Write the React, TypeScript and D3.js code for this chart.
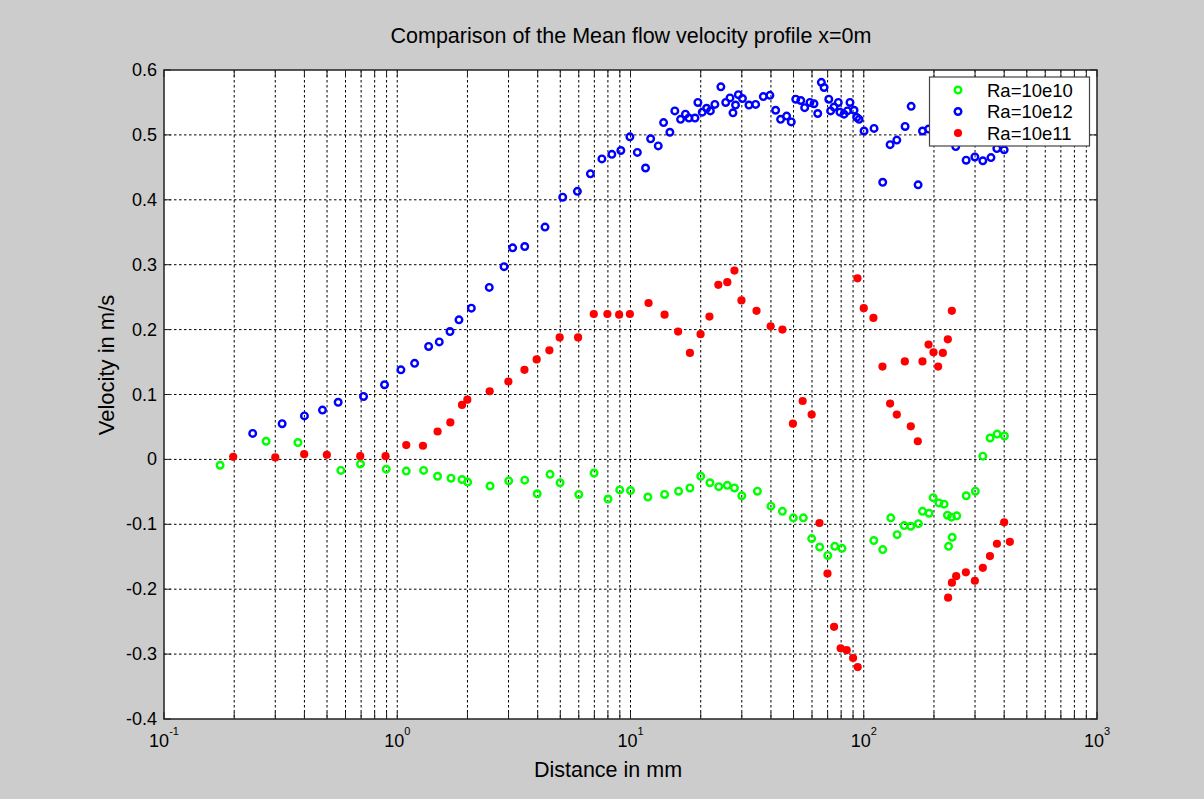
import React from 'react';
import * as d3 from 'd3';

// Ra=10e10 (green open circles)
const greenX = [0.174, 0.274, 0.375, 0.573, 0.696, 0.897, 1.093, 1.297, 1.489, 1.70, 1.895, 2.004, 2.50, 3.005, 3.52, 3.98, 4.52, 4.99, 6.0, 6.98, 8.01, 8.99, 10, 11.87, 14.0, 16.07, 17.98, 20.0, 21.9, 23.9, 26.0, 27.9, 30, 35.0, 40.0, 44.8, 49.9, 55.1, 59.8, 64.7, 70.1, 75.1, 80.7, 110.4, 120.6, 130.6, 139, 149, 159, 171.6, 178.6, 190.6, 198.4, 210, 221, 228.5, 231, 237.7, 239.4, 250.6, 275, 301, 324, 348, 373, 401];
const greenY = [-0.009, 0.028, 0.026, -0.017, -0.007, -0.015, -0.018, -0.017, -0.026, -0.029, -0.031, -0.035, -0.041, -0.033, -0.032, -0.053, -0.023, -0.036, -0.054, -0.021, -0.061, -0.047, -0.048, -0.058, -0.054, -0.049, -0.044, -0.026, -0.036, -0.042, -0.040, -0.044, -0.056, -0.049, -0.072, -0.080, -0.090, -0.090, -0.122, -0.135, -0.148, -0.134, -0.137, -0.125, -0.139, -0.090, -0.116, -0.102, -0.103, -0.099, -0.080, -0.083, -0.059, -0.067, -0.069, -0.086, -0.134, -0.089, -0.120, -0.087, -0.056, -0.049, 0.005, 0.033, 0.039, 0.036];

// Ra=10e12 (blue open circles)
const blueX = [0.240, 0.321, 0.40, 0.478, 0.558, 0.717, 0.882, 1.037, 1.187, 1.363, 1.514, 1.683, 1.839, 2.078, 2.48, 2.871, 3.125, 3.52, 4.30, 5.12, 5.92, 6.73, 7.54, 8.32, 9.09, 9.94, 10.7, 11.6, 12.2, 13.15, 13.86, 14.75, 15.49, 16.39, 17.2, 17.8, 18.9, 19.45, 20.3, 21.2, 22.0, 23.0, 24.4, 25.6, 26.7, 27.5, 28.2, 29.0, 30.2, 32.2, 34.4, 37.1, 39.6, 41.9, 44.0, 46.7, 48.9, 51.1, 53.7, 55.8, 58.8, 61.2, 63.5, 65.8, 67.6, 70.8, 72.1, 74.6, 77.8, 79.1, 82.3, 85.1, 87.3, 90.9, 93.3, 95.5, 100.3, 110.7, 120.6, 129.7, 138.6, 150.4, 159.7, 171, 178.6, 189.6, 248, 274.8, 299.5, 324, 351, 372, 400];
const blueY = [0.040, 0.055, 0.067, 0.076, 0.088, 0.097, 0.115, 0.138, 0.148, 0.174, 0.181, 0.197, 0.215, 0.233, 0.265, 0.297, 0.326, 0.328, 0.358, 0.404, 0.413, 0.440, 0.463, 0.470, 0.476, 0.497, 0.473, 0.449, 0.494, 0.483, 0.519, 0.504, 0.537, 0.524, 0.532, 0.526, 0.526, 0.550, 0.535, 0.541, 0.537, 0.547, 0.574, 0.550, 0.557, 0.534, 0.546, 0.562, 0.556, 0.546, 0.547, 0.559, 0.561, 0.538, 0.524, 0.529, 0.520, 0.555, 0.553, 0.542, 0.550, 0.548, 0.533, 0.581, 0.573, 0.555, 0.537, 0.543, 0.550, 0.535, 0.532, 0.537, 0.550, 0.538, 0.527, 0.524, 0.506, 0.510, 0.427, 0.485, 0.492, 0.513, 0.544, 0.423, 0.506, 0.509, 0.482, 0.461, 0.466, 0.460, 0.465, 0.479, 0.477];

// Ra=10e11 (red filled dots)
const redX = [0.198, 0.300, 0.399, 0.499, 0.694, 0.891, 1.093, 1.289, 1.489, 1.689, 1.895, 1.997, 2.49, 2.995, 3.51, 3.96, 4.49, 4.97, 5.96, 6.96, 7.96, 8.94, 9.94, 11.95, 14.0, 16.0, 17.98, 19.97, 21.8, 23.8, 26.0, 27.9, 29.9, 34.7, 39.9, 44.8, 49.7, 54.7, 59.8, 64.6, 69.9, 74.6, 79.6, 84.5, 90, 94.2, 94.0, 100, 110, 120.3, 129.7, 138.6, 150, 159.1, 170.5, 178.6, 189.6, 199.1, 208.4, 218.3, 229.3, 238.6, 230, 238.8, 249, 274, 299.5, 324, 347.6, 372.4, 400, 423];
const redY = [0.004, 0.003, 0.008, 0.007, 0.005, 0.005, 0.022, 0.021, 0.043, 0.057, 0.084, 0.092, 0.105, 0.120, 0.138, 0.154, 0.168, 0.188, 0.188, 0.224, 0.224, 0.223, 0.224, 0.241, 0.223, 0.197, 0.164, 0.193, 0.220, 0.269, 0.273, 0.291, 0.245, 0.229, 0.205, 0.200, 0.055, 0.090, 0.069, -0.098, -0.176, -0.258, -0.291, -0.294, -0.306, -0.320, 0.279, 0.233, 0.218, 0.143, 0.086, 0.069, 0.151, 0.051, 0.028, 0.151, 0.177, 0.165, 0.143, 0.164, 0.185, 0.229, -0.213, -0.190, -0.180, -0.174, -0.187, -0.167, -0.149, -0.130, -0.097, -0.127];

const yTicks = [0.6, 0.5, 0.4, 0.3, 0.2, 0.1, 0, -0.1, -0.2, -0.3, -0.4];
const xDecades = [-1, 0, 1, 2, 3];
const legendLabels = ['Ra=10e10', 'Ra=10e12', 'Ra=10e11'];

const W = 1204;
const H = 799;
const left = 164, right = 1097, top = 70, bottom = 719;
const font = '"Liberation Sans", Arial, sans-serif';

export default function App() {
  const x = d3.scaleLog().domain([0.1, 1000]).range([left, right]);
  const y = d3.scaleLinear().domain([-0.4, 0.6]).range([bottom, top]);

  const minor: number[] = [];
  for (let e = -1; e < 3; e++) {
    for (let k = 1; k <= 9; k++) minor.push(k * Math.pow(10, e));
  }
  minor.push(1000);

  const green = greenX.map((v, i) => [v, greenY[i]]);
  const blue = blueX.map((v, i) => [v, blueY[i]]);
  const red = redX.map((v, i) => [v, redY[i]]);

  const dash = '2.5,2.5';
  const tick = 7;

  return (
    <svg width={W} height={H} style={{ position: 'absolute', left: 0, top: 0, display: 'block' }} fontFamily={font}>
      <rect x={0} y={0} width={W} height={H} fill="#cccccc" />
      <rect x={left} y={top} width={right - left} height={bottom - top} fill="#ffffff" />

      {/* grid */}
      {minor.filter(v => v > 0.1 && v < 1000).map((v, i) => (
        <line key={'gx' + i} x1={x(v)} x2={x(v)} y1={top} y2={bottom} stroke="#000" strokeWidth={1} strokeDasharray={dash} />
      ))}
      {yTicks.filter(v => v !== 0.6 && v !== -0.4).map((v, i) => (
        <line key={'gy' + i} x1={left} x2={right} y1={y(v)} y2={y(v)} stroke="#000" strokeWidth={1} strokeDasharray={dash} />
      ))}

      {/* ticks */}
      {minor.map((v, i) => (
        <g key={'tx' + i} stroke="#222" strokeWidth={1}>
          <line x1={x(v)} x2={x(v)} y1={bottom} y2={bottom - tick} />
          <line x1={x(v)} x2={x(v)} y1={top} y2={top + tick} />
        </g>
      ))}
      {yTicks.map((v, i) => (
        <g key={'ty' + i} stroke="#222" strokeWidth={1}>
          <line x1={left} x2={left + tick} y1={y(v)} y2={y(v)} />
          <line x1={right} x2={right - tick} y1={y(v)} y2={y(v)} />
        </g>
      ))}

      {/* data */}
      {green.map((d, i) => (
        <circle key={'g' + i} cx={x(d[0])} cy={y(d[1])} r={3.3} fill="none" stroke="#00ff00" strokeWidth={2.4} />
      ))}
      {blue.map((d, i) => (
        <circle key={'b' + i} cx={x(d[0])} cy={y(d[1])} r={3.3} fill="none" stroke="#0000ff" strokeWidth={2.4} />
      ))}
      {red.map((d, i) => (
        <circle key={'r' + i} cx={x(d[0])} cy={y(d[1])} r={4.1} fill="#ff0000" />
      ))}

      <rect x={left} y={top} width={right - left} height={bottom - top} fill="none" stroke="#222" strokeWidth={1.5} />

      {/* tick labels */}
      {yTicks.map((v, i) => (
        <text key={'ly' + i} x={157} y={y(v)} textAnchor="end" dominantBaseline="central" fontSize={18} fill="#000">
          {v === 0 ? '0' : v.toFixed(1)}
        </text>
      ))}
      {xDecades.map((e, i) => (
        <text key={'lx' + i} x={x(Math.pow(10, e))} y={747} textAnchor="middle" fontSize={18} fill="#000">
          <tspan>10</tspan>
          <tspan fontSize={11} dy={-12}>{String(e)}</tspan>
        </text>
      ))}

      {/* titles */}
      <text x={631} y={43} textAnchor="middle" fontSize={21.5} fill="#000">Comparison of the Mean flow velocity profile x=0m</text>
      <text x={608} y={777} textAnchor="middle" fontSize={21.5} fill="#000">Distance in mm</text>
      <text transform={`translate(114, 365) rotate(-90)`} textAnchor="middle" fontSize={22} fill="#000">Velocity in m/s</text>

      {/* legend */}
      <rect x={929.5} y={77} width={160} height={69} fill="#ffffff" stroke="#444" strokeWidth={1.2} />
      {legendLabels.map((lab, i) => {
        const ly = 90 + i * 21.5;
        return (
          <g key={'lg' + i}>
            {i === 2
              ? <circle cx={958} cy={ly} r={4.1} fill="#ff0000" />
              : <circle cx={958} cy={ly} r={3.3} fill="none" stroke={i === 0 ? '#00ff00' : '#0000ff'} strokeWidth={2.4} />}
            <text x={987} y={ly} dominantBaseline="central" fontSize={18.5} fill="#000">{lab}</text>
          </g>
        );
      })}
    </svg>
  );
}
